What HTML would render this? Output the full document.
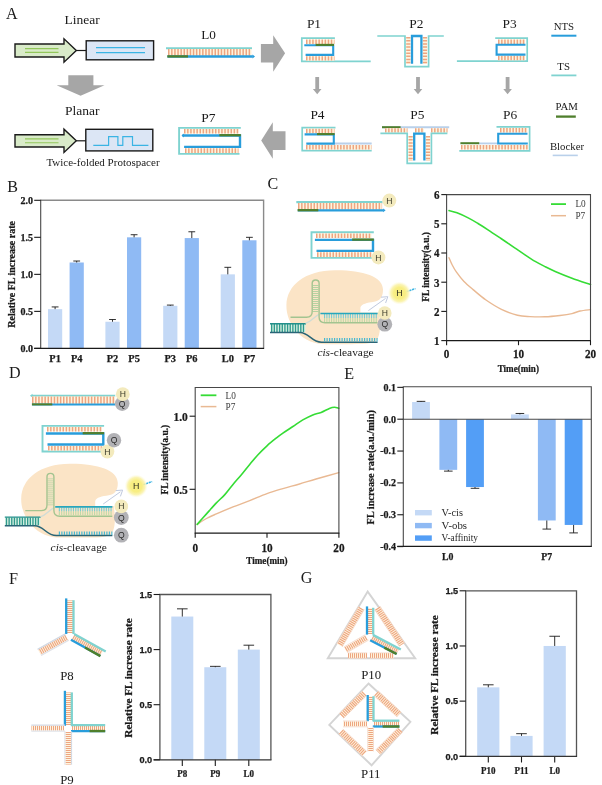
<!DOCTYPE html>
<html lang="en">
<head>
<meta charset="utf-8">
<title>Figure: linear and planar protospacer structures</title>
<style>
html,body{margin:0;padding:0;background:#fff;}
body{width:602px;height:785px;overflow:hidden;}
svg{display:block;}
text{white-space:pre;}
</style>
</head>
<body>
<svg width="602" height="785" viewBox="0 0 602 785">
<defs>
<radialGradient id="glow" cx="50%" cy="50%" r="50%">
<stop offset="0" stop-color="#f8ee7c"/>
<stop offset="0.5" stop-color="#f8ee84"/>
<stop offset="0.75" stop-color="#faf2a6" stop-opacity="0.85"/>
<stop offset="1" stop-color="#fdf9d8" stop-opacity="0"/>
</radialGradient>
</defs>
<rect x="0" y="0" width="602" height="785" fill="#ffffff"/>
<g id="panelA">
<text x="6" y="19" font-family="'Liberation Serif',serif" font-size="16.1" fill="#1a1a1a">A</text>
<text x="64.5" y="24" font-family="'Liberation Serif',serif" font-size="13.5" fill="#1a1a1a">Linear</text>
<text x="65" y="115" font-family="'Liberation Serif',serif" font-size="13.5" fill="#1a1a1a">Planar</text>
<text x="46.4" y="166" font-family="'Liberation Serif',serif" font-size="11" fill="#1a1a1a">Twice-folded Protospacer</text>
<polygon points="15,44 64,44 64,38.8 76.3,50.5 64,62.2 64,57 15,57" fill="#d9ebc9" stroke="#1a1a1a" stroke-width="1.4" stroke-linejoin="miter"/>
<line x1="25" y1="48.6" x2="58.5" y2="48.6" stroke="#93c75b" stroke-width="1.1"/>
<line x1="25" y1="52.4" x2="58.5" y2="52.4" stroke="#93c75b" stroke-width="1.1"/>
<line x1="76.3" y1="50.5" x2="86" y2="50.5" stroke="#1a1a1a" stroke-width="1.2"/>
<polygon points="15,134.8 64,134.8 64,129.2 76.3,140.8 64,152.4 64,147 15,147" fill="#d9ebc9" stroke="#1a1a1a" stroke-width="1.4" stroke-linejoin="miter"/>
<line x1="25" y1="138.9" x2="58.5" y2="138.9" stroke="#93c75b" stroke-width="1.1"/>
<line x1="25" y1="142.7" x2="58.5" y2="142.7" stroke="#93c75b" stroke-width="1.1"/>
<line x1="76.3" y1="140.8" x2="86" y2="140.8" stroke="#1a1a1a" stroke-width="1.2"/>
<rect x="86.2" y="40.8" width="67.4" height="19" fill="#dce6f5" stroke="#1a1a1a" stroke-width="1.4"/>
<line x1="96" y1="47.6" x2="145" y2="47.6" stroke="#3ab4e4" stroke-width="1.2"/>
<line x1="96" y1="52.6" x2="145" y2="52.6" stroke="#3ab4e4" stroke-width="1.2"/>
<rect x="85.8" y="129.3" width="67" height="21.6" fill="#dce6f5" stroke="#1a1a1a" stroke-width="1.4"/>
<polyline points="93.3,145.3 108.6,145.3 108.6,136.7 117.9,136.7 117.9,145.3 122.8,145.3 122.8,136.7 132.5,136.7 132.5,145.3 148.4,145.3" fill="none" stroke="#3ab4e4" stroke-width="1.2"/>
<polygon points="68.3,75.3 93.4,75.3 93.4,85.2 104.5,85.2 80.6,95.8 56.6,85.2 68.3,85.2" fill="#a6a6a6"/>
<polygon points="260.9,43.9 273.2,43.9 273.2,35.3 285.1,53.2 273.2,71.8 273.2,62.5 260.9,62.5" fill="#a6a6a6"/>
<polygon points="285.5,131.3 272.8,131.3 272.8,122.3 261.2,140.6 272.8,158.8 272.8,149.9 285.5,149.9" fill="#a6a6a6"/>
<polygon points="315.3,77 319.1,77 319.1,89 321.5,89 317.2,94.2 312.9,89 315.3,89" fill="#a6a6a6"/>
<polygon points="416.1,77 419.9,77 419.9,89 422.3,89 418,94.2 413.7,89 416.1,89" fill="#a6a6a6"/>
<polygon points="505.7,77 509.5,77 509.5,89 511.9,89 507.6,94.2 503.3,89 505.7,89" fill="#a6a6a6"/>
<text x="201.3" y="39" font-family="'Liberation Serif',serif" font-size="13.2" fill="#1a1a1a">L0</text>
<line x1="166" y1="48.3" x2="252" y2="48.3" stroke="#7fd3d0" stroke-width="2.1"/>
<line x1="168" y1="52.4" x2="251.5" y2="52.4" stroke="#fff4de" stroke-width="6.6"/>
<line x1="168" y1="52.4" x2="251.5" y2="52.4" stroke="#eda581" stroke-width="6.6" stroke-dasharray="1.5 1.6"/>
<line x1="167.5" y1="56.5" x2="252.8" y2="56.5" stroke="#289ddb" stroke-width="2.3"/>
<line x1="167.3" y1="56.4" x2="188" y2="56.4" stroke="#4f7f2c" stroke-width="2.3"/>
<polygon points="252.5,54.6 255,56.5 252.5,58.4" fill="#289ddb"/>
<text x="201.3" y="122" font-family="'Liberation Serif',serif" font-size="13.5" fill="#1a1a1a">P7</text>
<polyline points="240.8,127.9 179.1,127.9 179.1,153.9 239.5,153.9" fill="none" stroke="#7fd3d0" stroke-width="1.9"/>
<line x1="184" y1="131.3" x2="238.5" y2="131.3" stroke="#fff4de" stroke-width="4.6"/>
<line x1="184" y1="131.3" x2="238.5" y2="131.3" stroke="#eda581" stroke-width="4.6" stroke-dasharray="1.5 1.6"/>
<line x1="185" y1="150.6" x2="238.5" y2="150.6" stroke="#fff4de" stroke-width="4.6"/>
<line x1="185" y1="150.6" x2="238.5" y2="150.6" stroke="#eda581" stroke-width="4.6" stroke-dasharray="1.5 1.6"/>
<polyline points="182.5,135.5 240,135.5 240,146.9 184.1,146.9" fill="none" stroke="#289ddb" stroke-width="2.4"/>
<line x1="219.37" y1="135.2" x2="240.8" y2="135.2" stroke="#4f7f2c" stroke-width="2.3"/>
<polygon points="183.8,133.6 181.5,135.5 183.8,137.4" fill="#289ddb"/>
<text x="306.9" y="27.7" font-family="'Liberation Serif',serif" font-size="13.4" fill="#1a1a1a">P1</text>
<polyline points="334.9,38.2 301.8,38.2 301.8,61.4 370.7,61.4" fill="none" stroke="#7fd3d0" stroke-width="1.7"/>
<line x1="306" y1="41.8" x2="334.5" y2="41.8" stroke="#fff4de" stroke-width="4.6"/>
<line x1="306" y1="41.8" x2="334.5" y2="41.8" stroke="#eda581" stroke-width="4.6" stroke-dasharray="1.5 1.6"/>
<line x1="306" y1="58.4" x2="334.5" y2="58.4" stroke="#fff4de" stroke-width="4.4"/>
<line x1="306" y1="58.4" x2="334.5" y2="58.4" stroke="#eda581" stroke-width="4.4" stroke-dasharray="1.5 1.6"/>
<polyline points="304.3,45.2 333.2,45.2 333.2,54.9 305.6,54.9" fill="none" stroke="#289ddb" stroke-width="2.1"/>
<line x1="315.6" y1="44.9" x2="334" y2="44.9" stroke="#4f7f2c" stroke-width="2.1"/>
<text x="409.3" y="27.6" font-family="'Liberation Serif',serif" font-size="13.4" fill="#1a1a1a">P2</text>
<polyline points="377.3,36 405,36 405,66.7 428.6,66.7 428.6,36 443.8,36" fill="none" stroke="#7fd3d0" stroke-width="1.7"/>
<line x1="408.3" y1="37" x2="408.3" y2="64" stroke="#fff4de" stroke-width="4.2"/>
<line x1="408.3" y1="37" x2="408.3" y2="64" stroke="#eda581" stroke-width="4.2" stroke-dasharray="1.5 1.6"/>
<line x1="425" y1="37" x2="425" y2="64" stroke="#fff4de" stroke-width="4.2"/>
<line x1="425" y1="37" x2="425" y2="64" stroke="#eda581" stroke-width="4.2" stroke-dasharray="1.5 1.6"/>
<polyline points="412,63.8 412,36 421.4,36 421.4,63.8" fill="none" stroke="#289ddb" stroke-width="2.3"/>
<text x="502.6" y="27.7" font-family="'Liberation Serif',serif" font-size="13.4" fill="#1a1a1a">P3</text>
<polyline points="495.2,38.2 527.2,38.2 527.2,61.2 456.9,61.2" fill="none" stroke="#7fd3d0" stroke-width="1.7"/>
<line x1="498" y1="41.7" x2="525" y2="41.7" stroke="#fff4de" stroke-width="4.4"/>
<line x1="498" y1="41.7" x2="525" y2="41.7" stroke="#eda581" stroke-width="4.4" stroke-dasharray="1.5 1.6"/>
<line x1="498" y1="58" x2="525" y2="58" stroke="#fff4de" stroke-width="4.4"/>
<line x1="498" y1="58" x2="525" y2="58" stroke="#eda581" stroke-width="4.4" stroke-dasharray="1.5 1.6"/>
<polyline points="525.5,44.8 496.6,44.8 496.6,54.6 525.5,54.6" fill="none" stroke="#289ddb" stroke-width="2.1"/>
<text x="310.4" y="118.9" font-family="'Liberation Serif',serif" font-size="13.4" fill="#1a1a1a">P4</text>
<polyline points="335.5,127.6 302.2,127.6 302.2,150.6 371.7,150.6" fill="none" stroke="#7fd3d0" stroke-width="1.7"/>
<line x1="306" y1="131" x2="334.5" y2="131" stroke="#fff4de" stroke-width="4.6"/>
<line x1="306" y1="131" x2="334.5" y2="131" stroke="#eda581" stroke-width="4.6" stroke-dasharray="1.5 1.6"/>
<line x1="306" y1="147.2" x2="371.5" y2="147.2" stroke="#fff4de" stroke-width="4.6"/>
<line x1="306" y1="147.2" x2="371.5" y2="147.2" stroke="#eda581" stroke-width="4.6" stroke-dasharray="1.5 1.6"/>
<line x1="334" y1="143.5" x2="371.7" y2="143.5" stroke="#b9d0ea" stroke-width="1.8"/>
<polyline points="304.6,134.4 333.8,134.4 333.8,143.6 306.3,143.6" fill="none" stroke="#289ddb" stroke-width="2.1"/>
<line x1="317" y1="134.1" x2="334.6" y2="134.1" stroke="#4f7f2c" stroke-width="2.1"/>
<text x="410.3" y="118.8" font-family="'Liberation Serif',serif" font-size="13.4" fill="#1a1a1a">P5</text>
<line x1="382" y1="127.3" x2="449.2" y2="127.3" stroke="#b9d0ea" stroke-width="1.9"/>
<line x1="382" y1="127.2" x2="400.6" y2="127.2" stroke="#4f7f2c" stroke-width="2"/>
<line x1="385" y1="130.4" x2="407.5" y2="130.4" stroke="#fff4de" stroke-width="4.2"/>
<line x1="385" y1="130.4" x2="407.5" y2="130.4" stroke="#eda581" stroke-width="4.2" stroke-dasharray="1.5 1.6"/>
<line x1="415" y1="130.4" x2="424" y2="130.4" stroke="#fff4de" stroke-width="4.2"/>
<line x1="415" y1="130.4" x2="424" y2="130.4" stroke="#eda581" stroke-width="4.2" stroke-dasharray="1.5 1.6"/>
<line x1="431" y1="130.4" x2="447.5" y2="130.4" stroke="#fff4de" stroke-width="4.2"/>
<line x1="431" y1="130.4" x2="447.5" y2="130.4" stroke="#eda581" stroke-width="4.2" stroke-dasharray="1.5 1.6"/>
<polyline points="380.4,133.3 407.2,133.3 407.2,163.4 431.4,163.4 431.4,133.3 447.4,133.3" fill="none" stroke="#7fd3d0" stroke-width="1.7"/>
<line x1="410.6" y1="136" x2="410.6" y2="161" stroke="#fff4de" stroke-width="4.2"/>
<line x1="410.6" y1="136" x2="410.6" y2="161" stroke="#eda581" stroke-width="4.2" stroke-dasharray="1.5 1.6"/>
<line x1="428" y1="136" x2="428" y2="161" stroke="#fff4de" stroke-width="4.2"/>
<line x1="428" y1="136" x2="428" y2="161" stroke="#eda581" stroke-width="4.2" stroke-dasharray="1.5 1.6"/>
<polyline points="414.2,160.6 414.2,133.6 424.4,133.6 424.4,160.6" fill="none" stroke="#289ddb" stroke-width="2.3"/>
<text x="503" y="118.8" font-family="'Liberation Serif',serif" font-size="13.4" fill="#1a1a1a">P6</text>
<polyline points="496.5,126.9 529.6,126.9 529.6,150.8 459.3,150.8" fill="none" stroke="#7fd3d0" stroke-width="1.7"/>
<line x1="500" y1="130.3" x2="527.5" y2="130.3" stroke="#fff4de" stroke-width="4.4"/>
<line x1="500" y1="130.3" x2="527.5" y2="130.3" stroke="#eda581" stroke-width="4.4" stroke-dasharray="1.5 1.6"/>
<line x1="461" y1="147.3" x2="528" y2="147.3" stroke="#fff4de" stroke-width="4.6"/>
<line x1="461" y1="147.3" x2="528" y2="147.3" stroke="#eda581" stroke-width="4.6" stroke-dasharray="1.5 1.6"/>
<line x1="479" y1="143.4" x2="497.5" y2="143.4" stroke="#b9d0ea" stroke-width="1.8"/>
<line x1="460.4" y1="143.2" x2="479.2" y2="143.2" stroke="#4f7f2c" stroke-width="2"/>
<polyline points="527.5,133.7 498.2,133.7 498.2,143.5 527.8,143.5" fill="none" stroke="#289ddb" stroke-width="2.1"/>
<text x="563.9" y="30.3" font-family="'Liberation Serif',serif" font-size="10.8" text-anchor="middle" fill="#1a1a1a">NTS</text>
<line x1="551.3" y1="35.7" x2="576.4" y2="35.7" stroke="#289ddb" stroke-width="2"/>
<text x="563.6" y="70.1" font-family="'Liberation Serif',serif" font-size="10.8" text-anchor="middle" fill="#1a1a1a">TS</text>
<line x1="551.3" y1="75.4" x2="576.4" y2="75.4" stroke="#7fd3d0" stroke-width="1.8"/>
<text x="566.6" y="110.3" font-family="'Liberation Serif',serif" font-size="10.8" text-anchor="middle" fill="#1a1a1a">PAM</text>
<line x1="556" y1="116.6" x2="575.8" y2="116.6" stroke="#4f7f2c" stroke-width="2.3"/>
<text x="567" y="150.1" font-family="'Liberation Serif',serif" font-size="10.8" text-anchor="middle" fill="#1a1a1a">Blocker</text>
<line x1="552.7" y1="155.4" x2="577.8" y2="155.4" stroke="#b9d0ea" stroke-width="1.6"/>
</g>
<g id="panelB">
<text transform="translate(7.2 192) scale(0.92 1)" font-family="'Liberation Serif',serif" font-size="17.5" fill="#1a1a1a">B</text>
<rect x="48" y="309.15" width="14.2" height="39.25" fill="#c4d9f6"/>
<line x1="55.1" y1="309.15" x2="55.1" y2="306.93" stroke="#1a1a1a" stroke-width="0.9"/>
<line x1="51.7" y1="306.93" x2="58.5" y2="306.93" stroke="#1a1a1a" stroke-width="0.9"/>
<text x="55.1" y="361.6" font-family="'Liberation Serif',serif" font-size="10.4" font-weight="bold" stroke="#1a1a1a" stroke-width="0.25" text-anchor="middle" fill="#1a1a1a">P1</text>
<rect x="69.6" y="262.5" width="14.2" height="85.9" fill="#8fbaf4"/>
<line x1="76.7" y1="262.5" x2="76.7" y2="261.02" stroke="#1a1a1a" stroke-width="0.9"/>
<line x1="73.3" y1="261.02" x2="80.1" y2="261.02" stroke="#1a1a1a" stroke-width="0.9"/>
<text x="76.7" y="361.6" font-family="'Liberation Serif',serif" font-size="10.4" font-weight="bold" stroke="#1a1a1a" stroke-width="0.25" text-anchor="middle" fill="#1a1a1a">P4</text>
<rect x="105.4" y="321.74" width="14.2" height="26.66" fill="#c4d9f6"/>
<line x1="112.5" y1="321.74" x2="112.5" y2="319.52" stroke="#1a1a1a" stroke-width="0.9"/>
<line x1="109.1" y1="319.52" x2="115.9" y2="319.52" stroke="#1a1a1a" stroke-width="0.9"/>
<text x="112.5" y="361.6" font-family="'Liberation Serif',serif" font-size="10.4" font-weight="bold" stroke="#1a1a1a" stroke-width="0.25" text-anchor="middle" fill="#1a1a1a">P2</text>
<rect x="127" y="237.32" width="14.2" height="111.07" fill="#8fbaf4"/>
<line x1="134.1" y1="237.32" x2="134.1" y2="234.73" stroke="#1a1a1a" stroke-width="0.9"/>
<line x1="130.7" y1="234.73" x2="137.5" y2="234.73" stroke="#1a1a1a" stroke-width="0.9"/>
<text x="134.1" y="361.6" font-family="'Liberation Serif',serif" font-size="10.4" font-weight="bold" stroke="#1a1a1a" stroke-width="0.25" text-anchor="middle" fill="#1a1a1a">P5</text>
<rect x="163.2" y="305.82" width="14.2" height="42.58" fill="#c4d9f6"/>
<line x1="170.3" y1="305.82" x2="170.3" y2="305.08" stroke="#1a1a1a" stroke-width="0.9"/>
<line x1="166.9" y1="305.08" x2="173.7" y2="305.08" stroke="#1a1a1a" stroke-width="0.9"/>
<text x="170.3" y="361.6" font-family="'Liberation Serif',serif" font-size="10.4" font-weight="bold" stroke="#1a1a1a" stroke-width="0.25" text-anchor="middle" fill="#1a1a1a">P3</text>
<rect x="184.7" y="238.07" width="14.2" height="110.33" fill="#8fbaf4"/>
<line x1="191.8" y1="238.07" x2="191.8" y2="231.77" stroke="#1a1a1a" stroke-width="0.9"/>
<line x1="188.4" y1="231.77" x2="195.2" y2="231.77" stroke="#1a1a1a" stroke-width="0.9"/>
<text x="191.8" y="361.6" font-family="'Liberation Serif',serif" font-size="10.4" font-weight="bold" stroke="#1a1a1a" stroke-width="0.25" text-anchor="middle" fill="#1a1a1a">P6</text>
<rect x="220.7" y="274.35" width="14.2" height="74.05" fill="#c4d9f6"/>
<line x1="227.8" y1="274.35" x2="227.8" y2="267.32" stroke="#1a1a1a" stroke-width="0.9"/>
<line x1="224.4" y1="267.32" x2="231.2" y2="267.32" stroke="#1a1a1a" stroke-width="0.9"/>
<text x="227.8" y="361.6" font-family="'Liberation Serif',serif" font-size="10.4" font-weight="bold" stroke="#1a1a1a" stroke-width="0.25" text-anchor="middle" fill="#1a1a1a">L0</text>
<rect x="242.3" y="240.29" width="14.2" height="108.11" fill="#8fbaf4"/>
<line x1="249.4" y1="240.29" x2="249.4" y2="237.32" stroke="#1a1a1a" stroke-width="0.9"/>
<line x1="246" y1="237.32" x2="252.8" y2="237.32" stroke="#1a1a1a" stroke-width="0.9"/>
<text x="249.4" y="361.6" font-family="'Liberation Serif',serif" font-size="10.4" font-weight="bold" stroke="#1a1a1a" stroke-width="0.25" text-anchor="middle" fill="#1a1a1a">P7</text>
<polyline points="40.7,200.3 263.6,200.3 263.6,348.4" fill="none" stroke="#8a8a8a" stroke-width="1.4"/>
<line x1="40.7" y1="199.7" x2="40.7" y2="348.4" stroke="#484848" stroke-width="1.1"/>
<line x1="34.2" y1="348.4" x2="264.1" y2="348.4" stroke="#1a1a1a" stroke-width="1.2"/>
<line x1="34.2" y1="348.4" x2="40.7" y2="348.4" stroke="#1a1a1a" stroke-width="1.1"/>
<text x="32.9" y="351.7" font-family="'Liberation Serif',serif" font-size="10" font-weight="bold" stroke="#1a1a1a" stroke-width="0.25" text-anchor="end" fill="#1a1a1a">0.0</text>
<line x1="34.2" y1="311.38" x2="40.7" y2="311.38" stroke="#1a1a1a" stroke-width="1.1"/>
<text x="32.9" y="314.68" font-family="'Liberation Serif',serif" font-size="10" font-weight="bold" stroke="#1a1a1a" stroke-width="0.25" text-anchor="end" fill="#1a1a1a">0.5</text>
<line x1="34.2" y1="274.35" x2="40.7" y2="274.35" stroke="#1a1a1a" stroke-width="1.1"/>
<text x="32.9" y="277.65" font-family="'Liberation Serif',serif" font-size="10" font-weight="bold" stroke="#1a1a1a" stroke-width="0.25" text-anchor="end" fill="#1a1a1a">1.0</text>
<line x1="34.2" y1="237.32" x2="40.7" y2="237.32" stroke="#1a1a1a" stroke-width="1.1"/>
<text x="32.9" y="240.62" font-family="'Liberation Serif',serif" font-size="10" font-weight="bold" stroke="#1a1a1a" stroke-width="0.25" text-anchor="end" fill="#1a1a1a">1.5</text>
<line x1="34.2" y1="200.3" x2="40.7" y2="200.3" stroke="#1a1a1a" stroke-width="1.1"/>
<text x="32.9" y="203.6" font-family="'Liberation Serif',serif" font-size="10" font-weight="bold" stroke="#1a1a1a" stroke-width="0.25" text-anchor="end" fill="#1a1a1a">2.0</text>
<text transform="translate(14.9 274.4) rotate(-90)" font-family="'Liberation Serif',serif" font-size="10" font-weight="bold" stroke="#1a1a1a" stroke-width="0.25" text-anchor="middle" fill="#1a1a1a">Relative FL increase rate</text>
</g>
<g id="diagC">
<text transform="translate(267.5 189) scale(0.92 1)" font-family="'Liberation Serif',serif" font-size="17.5" fill="#1a1a1a">C</text>
<line x1="296.3" y1="202.1" x2="382.6" y2="202.1" stroke="#7fd3d0" stroke-width="2.1"/>
<line x1="298" y1="206.2" x2="382.1" y2="206.2" stroke="#fff4de" stroke-width="6.6"/>
<line x1="298" y1="206.2" x2="382.1" y2="206.2" stroke="#eda581" stroke-width="6.6" stroke-dasharray="1.5 1.6"/>
<line x1="297.8" y1="210.3" x2="383.4" y2="210.3" stroke="#289ddb" stroke-width="2.3"/>
<line x1="297.6" y1="210.2" x2="318.3" y2="210.2" stroke="#4f7f2c" stroke-width="2.3"/>
<polygon points="383.1,208.4 385.6,210.3 383.1,212.2" fill="#289ddb"/>
<circle cx="389.3" cy="200.6" r="7" fill="#f3eabd"/>
<text x="389.3" y="203.7" font-family="'Liberation Sans',sans-serif" font-size="8.6" text-anchor="middle" fill="#3a3a2a">H</text>
<polyline points="373.8,232.3 311.5,232.3 311.5,257.9 372.5,257.9" fill="none" stroke="#7fd3d0" stroke-width="1.9"/>
<line x1="316" y1="235.7" x2="371.5" y2="235.7" stroke="#fff4de" stroke-width="4.6"/>
<line x1="316" y1="235.7" x2="371.5" y2="235.7" stroke="#eda581" stroke-width="4.6" stroke-dasharray="1.5 1.6"/>
<line x1="317" y1="254.6" x2="371.5" y2="254.6" stroke="#fff4de" stroke-width="4.6"/>
<line x1="317" y1="254.6" x2="371.5" y2="254.6" stroke="#eda581" stroke-width="4.6" stroke-dasharray="1.5 1.6"/>
<polyline points="314.9,239.9 373,239.9 373,250.9 316.5,250.9" fill="none" stroke="#289ddb" stroke-width="2.4"/>
<line x1="352.16" y1="239.6" x2="373.8" y2="239.6" stroke="#4f7f2c" stroke-width="2.3"/>
<circle cx="378.4" cy="257.4" r="7" fill="#f3eabd"/>
<text x="378.4" y="260.5" font-family="'Liberation Sans',sans-serif" font-size="8.6" text-anchor="middle" fill="#3a3a2a">H</text>
<g transform="translate(0 0)">
<path d="M335,270.3 C362,270 383,276.5 383,289.5 C383,297 380,300.8 374,301.8 C367,302.8 361.5,304 360.4,307.5 L360.4,312.6 L379,312.6 C380.5,322 381,335 376.5,340.5 C373,344 362,344.2 345,344.2 L326,344.2 C314,344.2 305,340.5 297,332 C290,324 286.2,315 286.4,305 C287,285 305,270.6 335,270.3 Z" fill="#fbe4c6"/>
<rect x="270.5" y="324" width="35" height="8" fill="#d9f1e3"/>
<line x1="271" y1="328" x2="305.4" y2="328" stroke="#2f9a8c" stroke-width="7.8" stroke-dasharray="1.35 1.3"/>
<line x1="270" y1="323.7" x2="306" y2="323.7" stroke="#23908c" stroke-width="1.4"/>
<path d="M270,332.4 L300,332.4 C309,332.4 311.5,342.2 321.5,342.2 L377.6,342.2" fill="none" stroke="#2a6577" stroke-width="1.5"/>
<line x1="324" y1="339.8" x2="377.6" y2="339.8" stroke="#4ab8d0" stroke-width="3.6" stroke-dasharray="1.2 1.3"/>
<path d="M305.5,323.4 C312,321.6 313.5,317 319.5,314.2" fill="none" stroke="#cfdcd6" stroke-width="1.3"/>
<line x1="315.6" y1="285" x2="315.6" y2="312.5" stroke="#b4d3a2" stroke-width="5.4" stroke-dasharray="0.95 1.05"/>
<path d="M290.5,317.2 L306.5,317.2 C310.3,317.2 312.2,315 312.2,311.5 L312.2,283.3 C312.2,278.9 319.1,278.9 319.1,283.3 L319.1,317 C319.1,320.8 321,322.8 325,322.8 L377.5,322.8" fill="none" stroke="#a3c490" stroke-width="1.4"/>
<line x1="324" y1="320" x2="377.4" y2="320" stroke="#bfd9a6" stroke-width="4.2" stroke-dasharray="1.1 1.25"/>
<line x1="324" y1="316" x2="377.4" y2="316" stroke="#79ccd2" stroke-width="3.8" stroke-dasharray="1.1 1.25"/>
<line x1="320.4" y1="313.5" x2="377.6" y2="313.5" stroke="#27a6bd" stroke-width="1.7"/>
<path d="M368.4,310.6 L385.6,298.4 M381,297.2 L387.8,296.7 L385.6,303" fill="none" stroke="#b9c3da" stroke-width="0.9"/>
<line x1="406.5" y1="291.6" x2="415.5" y2="288.6" stroke="#3db4e2" stroke-width="1.5" stroke-dasharray="2.2 0.7"/>
<circle cx="399.5" cy="293.1" r="11.6" fill="url(#glow)"/>
<text x="399.5" y="296.3" font-family="'Liberation Sans',sans-serif" font-size="8.8" text-anchor="middle" fill="#2e2e22">H</text>
<circle cx="384.8" cy="324.2" r="7.4" fill="#b2b2b6"/>
<text x="384.8" y="327.3" font-family="'Liberation Sans',sans-serif" font-size="8.6" text-anchor="middle" fill="#2c2c2c">Q</text>
<circle cx="384.8" cy="313" r="6.8" fill="#f3eabd"/>
<text x="384.8" y="316.1" font-family="'Liberation Sans',sans-serif" font-size="8.6" text-anchor="middle" fill="#3a3a2a">H</text>
</g>
<text x="317.4" y="355.9" font-family="'Liberation Serif',serif" font-size="11.4" fill="#1a1a1a"><tspan font-style="italic">cis</tspan>-cleavage</text>
</g>
<g id="graphC">
<path d="M449,257.7 C449.5,258.83 450.75,262.08 452,264.5 C453.25,266.92 454.5,269.37 456.5,272.2 C458.5,275.03 461.23,278.6 464,281.5 C466.77,284.4 469.43,286.52 473.1,289.6 C476.77,292.68 481.28,296.72 486,300 C490.72,303.28 496.15,306.77 501.4,309.3 C506.65,311.83 512.73,313.98 517.5,315.2 C522.27,316.42 525.42,316.33 530,316.6 C534.58,316.87 540,316.98 545,316.8 C550,316.62 555.5,316.03 560,315.5 C564.5,314.97 568.67,314.35 572,313.6 C575.33,312.85 576.92,311.67 580,311 C583.08,310.33 588.75,309.83 590.5,309.6" fill="none" stroke="#e9b993" stroke-width="1.4" stroke-linecap="round"/>
<path d="M449,210.6 C450.33,210.97 453.8,211.58 457,212.8 C460.2,214.02 464.7,216.12 468.2,217.9 C471.7,219.68 474.7,221.52 478,223.5 C481.3,225.48 484.17,227.3 488,229.8 C491.83,232.3 496.55,235.5 501,238.5 C505.45,241.5 510.7,245.08 514.7,247.8 C518.7,250.52 521.58,252.53 525,254.8 C528.42,257.07 531.87,259.43 535.2,261.4 C538.53,263.37 541.67,264.93 545,266.6 C548.33,268.27 550.7,269.47 555.2,271.4 C559.7,273.33 566.12,276 572,278.2 C577.88,280.4 587.42,283.53 590.5,284.6" fill="none" stroke="#35dc35" stroke-width="1.6" stroke-linecap="round"/>
<polyline points="446.6,340.6 446.6,194.6 590.5,194.6 590.5,340.6" fill="none" stroke="#484848" stroke-width="1.1"/>
<line x1="446.1" y1="340.6" x2="591" y2="340.6" stroke="#1a1a1a" stroke-width="1.2"/>
<line x1="441.3" y1="340.6" x2="446.6" y2="340.6" stroke="#1a1a1a" stroke-width="1.1"/>
<text transform="translate(439.4 344.9) scale(0.9 1)" font-family="'Liberation Serif',serif" font-size="12.2" font-weight="bold" stroke="#1a1a1a" stroke-width="0.25" text-anchor="end" fill="#1a1a1a">1</text>
<line x1="441.3" y1="311.4" x2="446.6" y2="311.4" stroke="#1a1a1a" stroke-width="1.1"/>
<text transform="translate(439.4 315.7) scale(0.9 1)" font-family="'Liberation Serif',serif" font-size="12.2" font-weight="bold" stroke="#1a1a1a" stroke-width="0.25" text-anchor="end" fill="#1a1a1a">2</text>
<line x1="441.3" y1="282.2" x2="446.6" y2="282.2" stroke="#1a1a1a" stroke-width="1.1"/>
<text transform="translate(439.4 286.5) scale(0.9 1)" font-family="'Liberation Serif',serif" font-size="12.2" font-weight="bold" stroke="#1a1a1a" stroke-width="0.25" text-anchor="end" fill="#1a1a1a">3</text>
<line x1="441.3" y1="253" x2="446.6" y2="253" stroke="#1a1a1a" stroke-width="1.1"/>
<text transform="translate(439.4 257.3) scale(0.9 1)" font-family="'Liberation Serif',serif" font-size="12.2" font-weight="bold" stroke="#1a1a1a" stroke-width="0.25" text-anchor="end" fill="#1a1a1a">4</text>
<line x1="441.3" y1="223.8" x2="446.6" y2="223.8" stroke="#1a1a1a" stroke-width="1.1"/>
<text transform="translate(439.4 228.1) scale(0.9 1)" font-family="'Liberation Serif',serif" font-size="12.2" font-weight="bold" stroke="#1a1a1a" stroke-width="0.25" text-anchor="end" fill="#1a1a1a">5</text>
<line x1="441.3" y1="194.6" x2="446.6" y2="194.6" stroke="#1a1a1a" stroke-width="1.1"/>
<text transform="translate(439.4 198.9) scale(0.9 1)" font-family="'Liberation Serif',serif" font-size="12.2" font-weight="bold" stroke="#1a1a1a" stroke-width="0.25" text-anchor="end" fill="#1a1a1a">6</text>
<line x1="446.6" y1="340.6" x2="446.6" y2="345.2" stroke="#1a1a1a" stroke-width="1.1"/>
<text transform="translate(446.6 358.2) scale(0.92 1)" font-family="'Liberation Serif',serif" font-size="12.2" font-weight="bold" stroke="#1a1a1a" stroke-width="0.25" text-anchor="middle" fill="#1a1a1a">0</text>
<line x1="518.5" y1="340.6" x2="518.5" y2="345.2" stroke="#1a1a1a" stroke-width="1.1"/>
<text transform="translate(518.5 358.2) scale(0.92 1)" font-family="'Liberation Serif',serif" font-size="12.2" font-weight="bold" stroke="#1a1a1a" stroke-width="0.25" text-anchor="middle" fill="#1a1a1a">10</text>
<line x1="590.5" y1="340.6" x2="590.5" y2="345.2" stroke="#1a1a1a" stroke-width="1.1"/>
<text transform="translate(590.5 358.2) scale(0.92 1)" font-family="'Liberation Serif',serif" font-size="12.2" font-weight="bold" stroke="#1a1a1a" stroke-width="0.25" text-anchor="middle" fill="#1a1a1a">20</text>
<text transform="translate(518.3 371.6) scale(0.93 1)" font-family="'Liberation Serif',serif" font-size="9.8" font-weight="bold" stroke="#1a1a1a" stroke-width="0.25" text-anchor="middle" fill="#1a1a1a">Time(min)</text>
<text transform="translate(428.6 266.9) rotate(-90)" font-family="'Liberation Serif',serif" font-size="10.2" font-weight="bold" stroke="#1a1a1a" stroke-width="0.25" text-anchor="middle" fill="#1a1a1a" textLength="69.6" lengthAdjust="spacingAndGlyphs">FL intensity(a.u.)</text>
<line x1="551" y1="204.1" x2="566" y2="204.1" stroke="#35dc35" stroke-width="1.8"/>
<line x1="551" y1="215.7" x2="566" y2="215.7" stroke="#e9b993" stroke-width="1.5"/>
<text transform="translate(575.4 207.3) scale(0.95 1)" font-family="'Liberation Serif',serif" font-size="9.8" fill="#3a3a3a">L0</text>
<text transform="translate(575.4 219) scale(0.95 1)" font-family="'Liberation Serif',serif" font-size="9.8" fill="#3a3a3a">P7</text>
</g>
<g id="diagD">
<text transform="translate(8.9 377.8) scale(0.93 1)" font-family="'Liberation Serif',serif" font-size="17.3" fill="#1a1a1a">D</text>
<line x1="32" y1="395.7" x2="115.2" y2="395.7" stroke="#7fd3d0" stroke-width="1.9"/>
<polygon points="32.5,393.8 29.9,395.7 32.5,397.6" fill="#7fd3d0"/>
<line x1="32" y1="400.1" x2="115.2" y2="400.1" stroke="#fff4de" stroke-width="7.2"/>
<line x1="32" y1="400.1" x2="115.2" y2="400.1" stroke="#eda581" stroke-width="7.2" stroke-dasharray="1.5 1.6"/>
<line x1="32.1" y1="404.5" x2="115.2" y2="404.5" stroke="#289ddb" stroke-width="2"/>
<line x1="31.9" y1="404.4" x2="52.3" y2="404.4" stroke="#4f7f2c" stroke-width="2"/>
<circle cx="122.2" cy="403.6" r="7.3" fill="#b2b2b6"/>
<text x="122.2" y="406.7" font-family="'Liberation Sans',sans-serif" font-size="8.6" text-anchor="middle" fill="#2c2c2c">Q</text>
<circle cx="122.8" cy="394.2" r="6.9" fill="#f3eabd"/>
<text x="122.8" y="397.3" font-family="'Liberation Sans',sans-serif" font-size="8.6" text-anchor="middle" fill="#3a3a2a">H</text>
<polyline points="104.1,425.9 42.5,425.9 42.5,451.5 102.8,451.5" fill="none" stroke="#7fd3d0" stroke-width="1.9"/>
<line x1="47" y1="429.3" x2="101.8" y2="429.3" stroke="#fff4de" stroke-width="4.6"/>
<line x1="47" y1="429.3" x2="101.8" y2="429.3" stroke="#eda581" stroke-width="4.6" stroke-dasharray="1.5 1.6"/>
<line x1="48" y1="448.2" x2="101.8" y2="448.2" stroke="#fff4de" stroke-width="4.6"/>
<line x1="48" y1="448.2" x2="101.8" y2="448.2" stroke="#eda581" stroke-width="4.6" stroke-dasharray="1.5 1.6"/>
<polyline points="45.9,433.5 103.3,433.5 103.3,444.5 47.5,444.5" fill="none" stroke="#289ddb" stroke-width="2.4"/>
<line x1="82.7" y1="433.2" x2="104.1" y2="433.2" stroke="#4f7f2c" stroke-width="2.3"/>
<circle cx="107.4" cy="451.5" r="6.9" fill="#f3eabd"/>
<text x="107.4" y="454.6" font-family="'Liberation Sans',sans-serif" font-size="8.6" text-anchor="middle" fill="#3a3a2a">H</text>
<circle cx="114" cy="440.2" r="7.2" fill="#b2b2b6"/>
<text x="114" y="443.3" font-family="'Liberation Sans',sans-serif" font-size="8.6" text-anchor="middle" fill="#2c2c2c">Q</text>
<g transform="translate(-265.2 193.4)">
<path d="M335,270.3 C362,270 383,276.5 383,289.5 C383,297 380,300.8 374,301.8 C367,302.8 361.5,304 360.4,307.5 L360.4,312.6 L379,312.6 C380.5,322 381,335 376.5,340.5 C373,344 362,344.2 345,344.2 L326,344.2 C314,344.2 305,340.5 297,332 C290,324 286.2,315 286.4,305 C287,285 305,270.6 335,270.3 Z" fill="#fbe4c6"/>
<rect x="270.5" y="324" width="35" height="8" fill="#d9f1e3"/>
<line x1="271" y1="328" x2="305.4" y2="328" stroke="#2f9a8c" stroke-width="7.8" stroke-dasharray="1.35 1.3"/>
<line x1="270" y1="323.7" x2="306" y2="323.7" stroke="#23908c" stroke-width="1.4"/>
<path d="M270,332.4 L300,332.4 C309,332.4 311.5,342.2 321.5,342.2 L377.6,342.2" fill="none" stroke="#2a6577" stroke-width="1.5"/>
<line x1="324" y1="339.8" x2="377.6" y2="339.8" stroke="#4ab8d0" stroke-width="3.6" stroke-dasharray="1.2 1.3"/>
<path d="M305.5,323.4 C312,321.6 313.5,317 319.5,314.2" fill="none" stroke="#cfdcd6" stroke-width="1.3"/>
<line x1="315.6" y1="285" x2="315.6" y2="312.5" stroke="#b4d3a2" stroke-width="5.4" stroke-dasharray="0.95 1.05"/>
<path d="M290.5,317.2 L306.5,317.2 C310.3,317.2 312.2,315 312.2,311.5 L312.2,283.3 C312.2,278.9 319.1,278.9 319.1,283.3 L319.1,317 C319.1,320.8 321,322.8 325,322.8 L377.5,322.8" fill="none" stroke="#a3c490" stroke-width="1.4"/>
<line x1="324" y1="320" x2="377.4" y2="320" stroke="#bfd9a6" stroke-width="4.2" stroke-dasharray="1.1 1.25"/>
<line x1="324" y1="316" x2="377.4" y2="316" stroke="#79ccd2" stroke-width="3.8" stroke-dasharray="1.1 1.25"/>
<line x1="320.4" y1="313.5" x2="377.6" y2="313.5" stroke="#27a6bd" stroke-width="1.7"/>
<path d="M368.4,310.6 L385.6,298.4 M381,297.2 L387.8,296.7 L385.6,303" fill="none" stroke="#b9c3da" stroke-width="0.9"/>
<line x1="408.4" y1="291.2" x2="417.4" y2="288.2" stroke="#3db4e2" stroke-width="1.5" stroke-dasharray="2.2 0.7"/>
<circle cx="401.4" cy="292.7" r="11.6" fill="url(#glow)"/>
<text x="401.4" y="295.9" font-family="'Liberation Sans',sans-serif" font-size="8.8" text-anchor="middle" fill="#2e2e22">H</text>
<circle cx="386.5" cy="324.2" r="7.4" fill="#b2b2b6"/>
<text x="386.5" y="327.3" font-family="'Liberation Sans',sans-serif" font-size="8.6" text-anchor="middle" fill="#2c2c2c">Q</text>
<circle cx="386.5" cy="313" r="6.8" fill="#f3eabd"/>
<text x="386.5" y="316.1" font-family="'Liberation Sans',sans-serif" font-size="8.6" text-anchor="middle" fill="#3a3a2a">H</text>
<circle cx="386.5" cy="341.8" r="7.4" fill="#b2b2b6"/>
<text x="386.5" y="344.9" font-family="'Liberation Sans',sans-serif" font-size="8.6" text-anchor="middle" fill="#2c2c2c">Q</text>
</g>
<text x="50.6" y="551.2" font-family="'Liberation Serif',serif" font-size="11.4" fill="#1a1a1a"><tspan font-style="italic">cis</tspan>-cleavage</text>
</g>
<g id="graphD">
<path d="M197.2,524.4 C198.75,523.42 203.3,520.25 206.5,518.5 C209.7,516.75 211.98,515.83 216.4,513.9 C220.82,511.97 227.45,509.12 233,506.9 C238.55,504.68 244.03,502.82 249.7,500.6 C255.37,498.38 261.47,495.6 267,493.6 C272.53,491.6 277.48,490.2 282.9,488.6 C288.32,487 293.97,485.6 299.5,484 C305.03,482.4 309.55,480.9 316.1,479 C322.65,477.1 335.02,473.67 338.8,472.6" fill="none" stroke="#e9b993" stroke-width="1.4" stroke-linecap="round"/>
<path d="M197.2,524.4 C198.75,522.65 203.3,517.48 206.5,513.9 C209.7,510.32 213.35,506.12 216.4,502.9 C219.45,499.68 222.03,497.68 224.8,494.6 C227.57,491.52 230.23,487.72 233,484.4 C235.77,481.08 238.62,478.03 241.4,474.7 C244.18,471.37 246.93,467.73 249.7,464.4 C252.47,461.07 255.12,457.8 258,454.7 C260.88,451.6 263.97,448.57 267,445.8 C270.03,443.03 273.55,440.22 276.2,438.1 C278.85,435.98 280.12,435.03 282.9,433.1 C285.68,431.17 289.58,428.7 292.9,426.5 C296.22,424.3 299.48,421.83 302.8,419.9 C306.12,417.97 309.75,416.15 312.8,414.9 C315.85,413.65 318.33,413.48 321.1,412.4 C323.87,411.32 327.18,409.25 329.4,408.4 C331.62,407.55 332.83,407.33 334.4,407.3 C335.97,407.27 338.07,408.05 338.8,408.2" fill="none" stroke="#35dc35" stroke-width="1.6" stroke-linecap="round"/>
<polyline points="195.2,533.1 195.2,387.5 338.9,387.5 338.9,533.1" fill="none" stroke="#484848" stroke-width="1.1"/>
<line x1="194.7" y1="533.1" x2="339.4" y2="533.1" stroke="#1a1a1a" stroke-width="1.2"/>
<line x1="189.6" y1="416.2" x2="195.2" y2="416.2" stroke="#1a1a1a" stroke-width="1.1"/>
<text transform="translate(187.8 420.5) scale(0.94 1)" font-family="'Liberation Serif',serif" font-size="12.2" font-weight="bold" stroke="#1a1a1a" stroke-width="0.25" text-anchor="end" fill="#1a1a1a">1.0</text>
<line x1="189.6" y1="489.3" x2="195.2" y2="489.3" stroke="#1a1a1a" stroke-width="1.1"/>
<text transform="translate(187.8 493.6) scale(0.94 1)" font-family="'Liberation Serif',serif" font-size="12.2" font-weight="bold" stroke="#1a1a1a" stroke-width="0.25" text-anchor="end" fill="#1a1a1a">0.5</text>
<line x1="195.2" y1="533.1" x2="195.2" y2="537.7" stroke="#1a1a1a" stroke-width="1.1"/>
<text transform="translate(195.2 552) scale(0.92 1)" font-family="'Liberation Serif',serif" font-size="12.2" font-weight="bold" stroke="#1a1a1a" stroke-width="0.25" text-anchor="middle" fill="#1a1a1a">0</text>
<line x1="267" y1="533.1" x2="267" y2="537.7" stroke="#1a1a1a" stroke-width="1.1"/>
<text transform="translate(267 552) scale(0.92 1)" font-family="'Liberation Serif',serif" font-size="12.2" font-weight="bold" stroke="#1a1a1a" stroke-width="0.25" text-anchor="middle" fill="#1a1a1a">10</text>
<line x1="338.9" y1="533.1" x2="338.9" y2="537.7" stroke="#1a1a1a" stroke-width="1.1"/>
<text transform="translate(338.9 552) scale(0.92 1)" font-family="'Liberation Serif',serif" font-size="12.2" font-weight="bold" stroke="#1a1a1a" stroke-width="0.25" text-anchor="middle" fill="#1a1a1a">20</text>
<text transform="translate(267 564.2) scale(0.93 1)" font-family="'Liberation Serif',serif" font-size="9.8" font-weight="bold" stroke="#1a1a1a" stroke-width="0.25" text-anchor="middle" fill="#1a1a1a">Time(min)</text>
<text transform="translate(168.3 459.7) rotate(-90)" font-family="'Liberation Serif',serif" font-size="10.2" font-weight="bold" stroke="#1a1a1a" stroke-width="0.25" text-anchor="middle" fill="#1a1a1a" textLength="69.8" lengthAdjust="spacingAndGlyphs">FL intensity(a.u.)</text>
<line x1="200.7" y1="395.3" x2="216.4" y2="395.3" stroke="#35dc35" stroke-width="1.8"/>
<line x1="200.7" y1="406.6" x2="216.4" y2="406.6" stroke="#e9b993" stroke-width="1.5"/>
<text transform="translate(225.6 398.6) scale(0.95 1)" font-family="'Liberation Serif',serif" font-size="9.8" fill="#3a3a3a">L0</text>
<text transform="translate(225.6 410) scale(0.95 1)" font-family="'Liberation Serif',serif" font-size="9.8" fill="#3a3a3a">P7</text>
</g>
<g id="panelE">
<text transform="translate(344.2 378.5) scale(0.93 1)" font-family="'Liberation Serif',serif" font-size="17.4" fill="#1a1a1a">E</text>
<rect x="412.1" y="402" width="17.8" height="17.2" fill="#c4d9f6"/>
<line x1="421" y1="402" x2="421" y2="401.36" stroke="#1a1a1a" stroke-width="0.9"/>
<line x1="416.7" y1="401.36" x2="425.3" y2="401.36" stroke="#1a1a1a" stroke-width="0.9"/>
<rect x="439.4" y="419.2" width="17.8" height="50.64" fill="#8fbaf4"/>
<line x1="448.3" y1="469.84" x2="448.3" y2="471.12" stroke="#1a1a1a" stroke-width="0.9"/>
<line x1="444" y1="471.12" x2="452.6" y2="471.12" stroke="#1a1a1a" stroke-width="0.9"/>
<rect x="466.1" y="419.2" width="17.8" height="67.84" fill="#539ef6"/>
<line x1="475" y1="487.04" x2="475" y2="488.31" stroke="#1a1a1a" stroke-width="0.9"/>
<line x1="470.7" y1="488.31" x2="479.3" y2="488.31" stroke="#1a1a1a" stroke-width="0.9"/>
<rect x="511" y="414.42" width="17.8" height="4.78" fill="#c4d9f6"/>
<line x1="519.9" y1="414.42" x2="519.9" y2="413.47" stroke="#1a1a1a" stroke-width="0.9"/>
<line x1="515.6" y1="413.47" x2="524.2" y2="413.47" stroke="#1a1a1a" stroke-width="0.9"/>
<rect x="537.9" y="419.2" width="17.8" height="101.28" fill="#8fbaf4"/>
<line x1="546.8" y1="520.48" x2="546.8" y2="529.08" stroke="#1a1a1a" stroke-width="0.9"/>
<line x1="542.5" y1="529.08" x2="551.1" y2="529.08" stroke="#1a1a1a" stroke-width="0.9"/>
<rect x="564.7" y="419.2" width="17.8" height="105.74" fill="#539ef6"/>
<line x1="573.6" y1="524.94" x2="573.6" y2="532.9" stroke="#1a1a1a" stroke-width="0.9"/>
<line x1="569.3" y1="532.9" x2="577.9" y2="532.9" stroke="#1a1a1a" stroke-width="0.9"/>
<line x1="403.3" y1="419.2" x2="591.3" y2="419.2" stroke="#484848" stroke-width="1.1"/>
<polyline points="403.3,546.4 403.3,386.8 591.3,386.8 591.3,546.4" fill="none" stroke="#484848" stroke-width="1.1"/>
<line x1="397.3" y1="546.4" x2="591.8" y2="546.4" stroke="#1a1a1a" stroke-width="1.2"/>
<line x1="397.3" y1="387.35" x2="403.3" y2="387.35" stroke="#1a1a1a" stroke-width="1.1"/>
<text x="396" y="390.65" font-family="'Liberation Serif',serif" font-size="10" font-weight="bold" stroke="#1a1a1a" stroke-width="0.25" text-anchor="end" fill="#1a1a1a">0.1</text>
<line x1="397.3" y1="419.2" x2="403.3" y2="419.2" stroke="#1a1a1a" stroke-width="1.1"/>
<text x="396" y="422.5" font-family="'Liberation Serif',serif" font-size="10" font-weight="bold" stroke="#1a1a1a" stroke-width="0.25" text-anchor="end" fill="#1a1a1a">0.0</text>
<line x1="397.3" y1="451.05" x2="403.3" y2="451.05" stroke="#1a1a1a" stroke-width="1.1"/>
<text x="396" y="454.35" font-family="'Liberation Serif',serif" font-size="10" font-weight="bold" stroke="#1a1a1a" stroke-width="0.25" text-anchor="end" fill="#1a1a1a">-0.1</text>
<line x1="397.3" y1="482.9" x2="403.3" y2="482.9" stroke="#1a1a1a" stroke-width="1.1"/>
<text x="396" y="486.2" font-family="'Liberation Serif',serif" font-size="10" font-weight="bold" stroke="#1a1a1a" stroke-width="0.25" text-anchor="end" fill="#1a1a1a">-0.2</text>
<line x1="397.3" y1="514.75" x2="403.3" y2="514.75" stroke="#1a1a1a" stroke-width="1.1"/>
<text x="396" y="518.05" font-family="'Liberation Serif',serif" font-size="10" font-weight="bold" stroke="#1a1a1a" stroke-width="0.25" text-anchor="end" fill="#1a1a1a">-0.3</text>
<line x1="397.3" y1="546.6" x2="403.3" y2="546.6" stroke="#1a1a1a" stroke-width="1.1"/>
<text x="396" y="549.9" font-family="'Liberation Serif',serif" font-size="10" font-weight="bold" stroke="#1a1a1a" stroke-width="0.25" text-anchor="end" fill="#1a1a1a">-0.4</text>
<text x="447.8" y="559.5" font-family="'Liberation Serif',serif" font-size="9.8" font-weight="bold" stroke="#1a1a1a" stroke-width="0.25" text-anchor="middle" fill="#1a1a1a">L0</text>
<text x="546.8" y="559.5" font-family="'Liberation Serif',serif" font-size="9.8" font-weight="bold" stroke="#1a1a1a" stroke-width="0.25" text-anchor="middle" fill="#1a1a1a">P7</text>
<text transform="translate(374 467.3) rotate(-90)" font-family="'Liberation Serif',serif" font-size="10.3" font-weight="bold" stroke="#1a1a1a" stroke-width="0.25" text-anchor="middle" fill="#1a1a1a">FL increase rate(a.u./min)</text>
<rect x="415" y="510" width="16.8" height="5.4" fill="#c4d9f6"/>
<text x="441.6" y="515.9" font-family="'Liberation Serif',serif" font-size="10.7" fill="#262626" textLength="21.4" lengthAdjust="spacingAndGlyphs">V-cis</text>
<rect x="415" y="522.9" width="16.8" height="5.4" fill="#8fbaf4"/>
<text x="441.6" y="528.8" font-family="'Liberation Serif',serif" font-size="10.7" fill="#262626" textLength="25.4" lengthAdjust="spacingAndGlyphs">V-obs</text>
<rect x="415" y="535.4" width="16.8" height="5.4" fill="#539ef6"/>
<text x="441.6" y="541.3" font-family="'Liberation Serif',serif" font-size="10.7" fill="#262626" textLength="36.4" lengthAdjust="spacingAndGlyphs">V-affinity</text>
</g>
<line x1="69.85" y1="633" x2="69.85" y2="600.4" stroke="#fff4de" stroke-width="6.1"/>
<line x1="69.85" y1="633" x2="69.85" y2="600.4" stroke="#eda581" stroke-width="6.1" stroke-dasharray="1 1"/>
<line x1="66.2" y1="634" x2="66.2" y2="598.4" stroke="#289ddb" stroke-width="2.3"/>
<line x1="73.5" y1="634" x2="73.5" y2="600.2" stroke="#7fd3d0" stroke-width="2.3"/>
<line x1="73.16" y1="637.15" x2="101.83" y2="653.1" stroke="#fff4de" stroke-width="5.4"/>
<line x1="73.16" y1="637.15" x2="101.83" y2="653.1" stroke="#eda581" stroke-width="5.4" stroke-dasharray="1.12 0.93"/>
<line x1="74.16" y1="633.92" x2="105.7" y2="651.48" stroke="#7fd3d0" stroke-width="2.3"/>
<line x1="70.95" y1="639.69" x2="100.39" y2="656.08" stroke="#289ddb" stroke-width="2.3"/>
<line x1="84.97" y1="647.5" x2="100.39" y2="656.08" stroke="#4f7f2c" stroke-width="2.4"/>
<line x1="66.44" y1="637.35" x2="39.47" y2="652.3" stroke="#fff4de" stroke-width="5.8"/>
<line x1="66.44" y1="637.35" x2="39.47" y2="652.3" stroke="#eda581" stroke-width="5.8" stroke-dasharray="1.12 0.93"/>
<line x1="68.75" y1="640.07" x2="41" y2="655.46" stroke="#e1e3e8" stroke-width="1.5"/>
<line x1="65.35" y1="633.95" x2="37.6" y2="649.34" stroke="#d3d9e3" stroke-width="1.5"/>
<text x="67" y="680" font-family="'Liberation Serif',serif" font-size="12.8" text-anchor="middle" fill="#1a1a1a">P8</text>
<line x1="68.35" y1="725" x2="68.35" y2="692.6" stroke="#fff4de" stroke-width="5.7"/>
<line x1="68.35" y1="725" x2="68.35" y2="692.6" stroke="#eda581" stroke-width="5.7" stroke-dasharray="1 1"/>
<line x1="64.9" y1="725.8" x2="64.9" y2="690.8" stroke="#289ddb" stroke-width="2.3"/>
<line x1="71.8" y1="725.8" x2="71.8" y2="692.4" stroke="#7fd3d0" stroke-width="2.3"/>
<line x1="72" y1="728.1" x2="105" y2="728.1" stroke="#fff4de" stroke-width="4.7"/>
<line x1="72" y1="728.1" x2="105" y2="728.1" stroke="#eda581" stroke-width="4.7" stroke-dasharray="1 1"/>
<line x1="71" y1="725.15" x2="105.2" y2="725.15" stroke="#7fd3d0" stroke-width="2.3"/>
<line x1="71" y1="731.05" x2="105.2" y2="731.05" stroke="#289ddb" stroke-width="2.3"/>
<line x1="89.65" y1="731.05" x2="105.2" y2="731.05" stroke="#4f7f2c" stroke-width="2.4"/>
<line x1="64" y1="728.2" x2="31.5" y2="728.2" stroke="#fff4de" stroke-width="4.8"/>
<line x1="64" y1="728.2" x2="31.5" y2="728.2" stroke="#eda581" stroke-width="4.8" stroke-dasharray="1 1"/>
<line x1="65" y1="731.2" x2="31.3" y2="731.2" stroke="#e1e3e8" stroke-width="1.2"/>
<line x1="65" y1="725.2" x2="31.3" y2="725.2" stroke="#d3d9e3" stroke-width="1.2"/>
<line x1="68.2" y1="732" x2="68.2" y2="764.5" stroke="#fff4de" stroke-width="5.4"/>
<line x1="68.2" y1="732" x2="68.2" y2="764.5" stroke="#eda581" stroke-width="5.4" stroke-dasharray="1 1"/>
<line x1="71.5" y1="731.3" x2="71.5" y2="764.7" stroke="#d3d9e3" stroke-width="1.2"/>
<line x1="64.9" y1="731.3" x2="64.9" y2="764.7" stroke="#e1e3e8" stroke-width="1.2"/>
<text x="66.9" y="783.5" font-family="'Liberation Serif',serif" font-size="12.8" text-anchor="middle" fill="#1a1a1a">P9</text>
<g id="panelF">
<text transform="translate(8.9 583.7) scale(0.93 1)" font-family="'Liberation Serif',serif" font-size="17.4" fill="#1a1a1a">F</text>
<rect x="171.3" y="616.54" width="22" height="143.26" fill="#c4d9f6"/>
<line x1="182.3" y1="616.54" x2="182.3" y2="608.83" stroke="#1a1a1a" stroke-width="0.9"/>
<line x1="177" y1="608.83" x2="187.6" y2="608.83" stroke="#1a1a1a" stroke-width="0.9"/>
<line x1="182.3" y1="759.8" x2="182.3" y2="766" stroke="#1a1a1a" stroke-width="1.1"/>
<text transform="translate(182.3 777) scale(0.91 1)" font-family="'Liberation Serif',serif" font-size="9.9" font-weight="bold" stroke="#1a1a1a" stroke-width="0.25" text-anchor="middle" fill="#1a1a1a">P8</text>
<rect x="204.3" y="667.23" width="22" height="92.57" fill="#c4d9f6"/>
<line x1="215.3" y1="667.23" x2="215.3" y2="666.35" stroke="#1a1a1a" stroke-width="0.9"/>
<line x1="210" y1="666.35" x2="220.6" y2="666.35" stroke="#1a1a1a" stroke-width="0.9"/>
<line x1="215.3" y1="759.8" x2="215.3" y2="766" stroke="#1a1a1a" stroke-width="1.1"/>
<text transform="translate(215.3 777) scale(0.91 1)" font-family="'Liberation Serif',serif" font-size="9.9" font-weight="bold" stroke="#1a1a1a" stroke-width="0.25" text-anchor="middle" fill="#1a1a1a">P9</text>
<rect x="237.8" y="649.6" width="22" height="110.2" fill="#c4d9f6"/>
<line x1="248.8" y1="649.6" x2="248.8" y2="645.19" stroke="#1a1a1a" stroke-width="0.9"/>
<line x1="243.5" y1="645.19" x2="254.1" y2="645.19" stroke="#1a1a1a" stroke-width="0.9"/>
<line x1="248.8" y1="759.8" x2="248.8" y2="766" stroke="#1a1a1a" stroke-width="1.1"/>
<text transform="translate(248.8 777) scale(0.91 1)" font-family="'Liberation Serif',serif" font-size="9.9" font-weight="bold" stroke="#1a1a1a" stroke-width="0.25" text-anchor="middle" fill="#1a1a1a">L0</text>
<polyline points="159.9,759.8 159.9,594.5 270.9,594.5 270.9,759.8" fill="none" stroke="#555" stroke-width="1.3"/>
<line x1="153.6" y1="759.8" x2="271.5" y2="759.8" stroke="#333" stroke-width="1.3"/>
<line x1="153.6" y1="759.8" x2="159.9" y2="759.8" stroke="#1a1a1a" stroke-width="1.1"/>
<text x="152.2" y="763.1" font-family="'Liberation Sans',sans-serif" font-size="9.2" font-weight="bold" stroke="#1a1a1a" stroke-width="0.25" text-anchor="end" fill="#1a1a1a">0.0</text>
<line x1="153.6" y1="704.7" x2="159.9" y2="704.7" stroke="#1a1a1a" stroke-width="1.1"/>
<text x="152.2" y="708" font-family="'Liberation Sans',sans-serif" font-size="9.2" font-weight="bold" stroke="#1a1a1a" stroke-width="0.25" text-anchor="end" fill="#1a1a1a">0.5</text>
<line x1="153.6" y1="649.6" x2="159.9" y2="649.6" stroke="#1a1a1a" stroke-width="1.1"/>
<text x="152.2" y="652.9" font-family="'Liberation Sans',sans-serif" font-size="9.2" font-weight="bold" stroke="#1a1a1a" stroke-width="0.25" text-anchor="end" fill="#1a1a1a">1.0</text>
<line x1="153.6" y1="594.5" x2="159.9" y2="594.5" stroke="#1a1a1a" stroke-width="1.1"/>
<text x="152.2" y="597.8" font-family="'Liberation Sans',sans-serif" font-size="9.2" font-weight="bold" stroke="#1a1a1a" stroke-width="0.25" text-anchor="end" fill="#1a1a1a">1.5</text>
<text transform="translate(132 678) rotate(-90)" font-family="'Liberation Serif',serif" font-size="11.2" font-weight="bold" stroke="#1a1a1a" stroke-width="0.25" text-anchor="middle" fill="#1a1a1a">Relative FL increase rate</text>
</g>
<polygon points="367.7,591.6 415.2,658.2 327.8,658.2" fill="none" stroke="#d4d4d4" stroke-width="1.9" stroke-linejoin="miter"/>
<line x1="361.3" y1="608.2" x2="339.5" y2="645.23" stroke="#fff4de" stroke-width="6"/>
<line x1="361.3" y1="608.2" x2="339.5" y2="645.23" stroke="#eda581" stroke-width="6" stroke-dasharray="1.12 0.93"/>
<line x1="364.26" y1="609.48" x2="342.16" y2="647.02" stroke="#f3d6c4" stroke-width="0.8"/>
<line x1="358.75" y1="606.23" x2="336.64" y2="643.78" stroke="#f3d6c4" stroke-width="0.8"/>
<line x1="377.5" y1="608.2" x2="401.89" y2="644.63" stroke="#fff4de" stroke-width="6"/>
<line x1="377.5" y1="608.2" x2="401.89" y2="644.63" stroke="#eda581" stroke-width="6" stroke-dasharray="1.12 0.93"/>
<line x1="379.94" y1="606.09" x2="404.66" y2="643.02" stroke="#f3d6c4" stroke-width="0.8"/>
<line x1="374.62" y1="609.65" x2="399.34" y2="646.58" stroke="#f3d6c4" stroke-width="0.8"/>
<line x1="348" y1="655.6" x2="367" y2="655.6" stroke="#fff4de" stroke-width="5"/>
<line x1="348" y1="655.6" x2="367" y2="655.6" stroke="#eda581" stroke-width="5" stroke-dasharray="1 1"/>
<line x1="347.8" y1="652.9" x2="367.2" y2="652.9" stroke="#f3d6c4" stroke-width="0.8"/>
<line x1="347.8" y1="658.3" x2="367.2" y2="658.3" stroke="#f3d6c4" stroke-width="0.8"/>
<line x1="370" y1="655.6" x2="393.8" y2="655.6" stroke="#fff4de" stroke-width="5"/>
<line x1="370" y1="655.6" x2="393.8" y2="655.6" stroke="#eda581" stroke-width="5" stroke-dasharray="1 1"/>
<line x1="369.8" y1="652.9" x2="394" y2="652.9" stroke="#f3d6c4" stroke-width="0.8"/>
<line x1="369.8" y1="658.3" x2="394" y2="658.3" stroke="#f3d6c4" stroke-width="0.8"/>
<line x1="370.1" y1="634" x2="370.1" y2="608" stroke="#fff4de" stroke-width="5"/>
<line x1="370.1" y1="634" x2="370.1" y2="608" stroke="#eda581" stroke-width="5" stroke-dasharray="1 1"/>
<line x1="367" y1="634.6" x2="367" y2="606.4" stroke="#289ddb" stroke-width="2.3"/>
<line x1="373.2" y1="634.6" x2="373.2" y2="607.8" stroke="#7fd3d0" stroke-width="2.3"/>
<line x1="372.17" y1="637.84" x2="397.82" y2="651.31" stroke="#fff4de" stroke-width="4.8"/>
<line x1="372.17" y1="637.84" x2="397.82" y2="651.31" stroke="#eda581" stroke-width="4.8" stroke-dasharray="1.12 0.93"/>
<line x1="372.94" y1="634.86" x2="400.81" y2="649.49" stroke="#7fd3d0" stroke-width="2.3"/>
<line x1="370.15" y1="640.17" x2="396.61" y2="654.06" stroke="#289ddb" stroke-width="2.3"/>
<line x1="384.34" y1="647.62" x2="396.61" y2="654.06" stroke="#4f7f2c" stroke-width="2.4"/>
<line x1="366.34" y1="637.75" x2="345.57" y2="649.7" stroke="#fff4de" stroke-width="5.2"/>
<line x1="366.34" y1="637.75" x2="345.57" y2="649.7" stroke="#eda581" stroke-width="5.2" stroke-dasharray="1.12 0.93"/>
<line x1="368.54" y1="640.17" x2="347" y2="652.57" stroke="#f3d6c4" stroke-width="0.8"/>
<line x1="365.35" y1="634.63" x2="343.8" y2="647.03" stroke="#f3d6c4" stroke-width="0.8"/>
<text x="371.2" y="678.5" font-family="'Liberation Serif',serif" font-size="12.8" text-anchor="middle" fill="#1a1a1a">P10</text>
<polygon points="368.5,683.5 410.4,721.8 371.6,765.3 329.3,724.9" fill="none" stroke="#d4d4d4" stroke-width="1.9" stroke-linejoin="miter"/>
<line x1="364.3" y1="693.4" x2="341.54" y2="715.86" stroke="#fff4de" stroke-width="6"/>
<line x1="364.3" y1="693.4" x2="341.54" y2="715.86" stroke="#eda581" stroke-width="6" stroke-dasharray="1.12 0.93"/>
<line x1="366.83" y1="695.4" x2="343.65" y2="718.28" stroke="#f3d6c4" stroke-width="0.8"/>
<line x1="362.34" y1="690.84" x2="339.15" y2="713.72" stroke="#f3d6c4" stroke-width="0.8"/>
<line x1="376.2" y1="693.4" x2="399.05" y2="714.46" stroke="#fff4de" stroke-width="6"/>
<line x1="376.2" y1="693.4" x2="399.05" y2="714.46" stroke="#eda581" stroke-width="6" stroke-dasharray="1.12 0.93"/>
<line x1="378.07" y1="690.78" x2="401.37" y2="712.25" stroke="#f3d6c4" stroke-width="0.8"/>
<line x1="373.74" y1="695.48" x2="397.03" y2="716.95" stroke="#f3d6c4" stroke-width="0.8"/>
<line x1="341" y1="731.6" x2="364.45" y2="753.66" stroke="#fff4de" stroke-width="6"/>
<line x1="341" y1="731.6" x2="364.45" y2="753.66" stroke="#eda581" stroke-width="6" stroke-dasharray="1.12 0.93"/>
<line x1="342.9" y1="729" x2="366.79" y2="751.47" stroke="#f3d6c4" stroke-width="0.8"/>
<line x1="338.52" y1="733.66" x2="362.41" y2="756.13" stroke="#f3d6c4" stroke-width="0.8"/>
<line x1="400.2" y1="730" x2="378.14" y2="752.06" stroke="#fff4de" stroke-width="6"/>
<line x1="400.2" y1="730" x2="378.14" y2="752.06" stroke="#eda581" stroke-width="6" stroke-dasharray="1.12 0.93"/>
<line x1="402.75" y1="731.98" x2="380.26" y2="754.46" stroke="#f3d6c4" stroke-width="0.8"/>
<line x1="398.22" y1="727.45" x2="375.74" y2="749.94" stroke="#f3d6c4" stroke-width="0.8"/>
<line x1="370.6" y1="720" x2="370.6" y2="696.4" stroke="#fff4de" stroke-width="4.6"/>
<line x1="370.6" y1="720" x2="370.6" y2="696.4" stroke="#eda581" stroke-width="4.6" stroke-dasharray="1 1"/>
<line x1="367.7" y1="721.2" x2="367.7" y2="695" stroke="#289ddb" stroke-width="2.3"/>
<line x1="373.5" y1="721.2" x2="373.5" y2="696.2" stroke="#7fd3d0" stroke-width="2.3"/>
<line x1="374" y1="723.6" x2="399.2" y2="723.6" stroke="#fff4de" stroke-width="4.6"/>
<line x1="374" y1="723.6" x2="399.2" y2="723.6" stroke="#eda581" stroke-width="4.6" stroke-dasharray="1 1"/>
<line x1="372.8" y1="720.7" x2="399.4" y2="720.7" stroke="#7fd3d0" stroke-width="2.3"/>
<line x1="372.8" y1="726.5" x2="399.4" y2="726.5" stroke="#289ddb" stroke-width="2.3"/>
<line x1="382.63" y1="726.5" x2="399.4" y2="726.5" stroke="#4f7f2c" stroke-width="2.4"/>
<line x1="367" y1="723.9" x2="343.2" y2="723.9" stroke="#fff4de" stroke-width="4.6"/>
<line x1="367" y1="723.9" x2="343.2" y2="723.9" stroke="#eda581" stroke-width="4.6" stroke-dasharray="1 1"/>
<line x1="367.6" y1="726.8" x2="343" y2="726.8" stroke="#f3d6c4" stroke-width="0.8"/>
<line x1="367.6" y1="721" x2="343" y2="721" stroke="#f3d6c4" stroke-width="0.8"/>
<line x1="370.6" y1="728" x2="370.6" y2="751.2" stroke="#fff4de" stroke-width="4.6"/>
<line x1="370.6" y1="728" x2="370.6" y2="751.2" stroke="#eda581" stroke-width="4.6" stroke-dasharray="1 1"/>
<line x1="373.5" y1="726.8" x2="373.5" y2="751.4" stroke="#f3d6c4" stroke-width="0.8"/>
<line x1="367.7" y1="726.8" x2="367.7" y2="751.4" stroke="#f3d6c4" stroke-width="0.8"/>
<text x="370.8" y="777.6" font-family="'Liberation Serif',serif" font-size="12.8" text-anchor="middle" fill="#1a1a1a">P11</text>
<g id="panelG">
<text transform="translate(300.7 583.3) scale(0.93 1)" font-family="'Liberation Serif',serif" font-size="17.4" fill="#1a1a1a">G</text>
<rect x="477.2" y="687.34" width="22.2" height="68.96" fill="#c4d9f6"/>
<line x1="488.3" y1="687.34" x2="488.3" y2="684.8" stroke="#1a1a1a" stroke-width="0.9"/>
<line x1="483" y1="684.8" x2="493.6" y2="684.8" stroke="#1a1a1a" stroke-width="0.9"/>
<line x1="488.3" y1="756.3" x2="488.3" y2="762.5" stroke="#1a1a1a" stroke-width="1.1"/>
<text transform="translate(488.3 773.5) scale(0.91 1)" font-family="'Liberation Serif',serif" font-size="9.9" font-weight="bold" stroke="#1a1a1a" stroke-width="0.25" text-anchor="middle" fill="#1a1a1a">P10</text>
<rect x="510.4" y="735.89" width="22.2" height="20.41" fill="#c4d9f6"/>
<line x1="521.5" y1="735.89" x2="521.5" y2="733.68" stroke="#1a1a1a" stroke-width="0.9"/>
<line x1="516.2" y1="733.68" x2="526.8" y2="733.68" stroke="#1a1a1a" stroke-width="0.9"/>
<line x1="521.5" y1="756.3" x2="521.5" y2="762.5" stroke="#1a1a1a" stroke-width="1.1"/>
<text transform="translate(521.5 773.5) scale(0.91 1)" font-family="'Liberation Serif',serif" font-size="9.9" font-weight="bold" stroke="#1a1a1a" stroke-width="0.25" text-anchor="middle" fill="#1a1a1a">P11</text>
<rect x="543.6" y="645.97" width="22.2" height="110.33" fill="#c4d9f6"/>
<line x1="554.7" y1="645.97" x2="554.7" y2="636.26" stroke="#1a1a1a" stroke-width="0.9"/>
<line x1="549.4" y1="636.26" x2="560" y2="636.26" stroke="#1a1a1a" stroke-width="0.9"/>
<line x1="554.7" y1="756.3" x2="554.7" y2="762.5" stroke="#1a1a1a" stroke-width="1.1"/>
<text transform="translate(554.7 773.5) scale(0.91 1)" font-family="'Liberation Serif',serif" font-size="9.9" font-weight="bold" stroke="#1a1a1a" stroke-width="0.25" text-anchor="middle" fill="#1a1a1a">L0</text>
<polyline points="465.7,756.3 465.7,590.8 576.5,590.8 576.5,756.3" fill="none" stroke="#555" stroke-width="1.3"/>
<line x1="459.6" y1="756.3" x2="577.1" y2="756.3" stroke="#333" stroke-width="1.3"/>
<line x1="459.6" y1="756.3" x2="465.7" y2="756.3" stroke="#1a1a1a" stroke-width="1.1"/>
<text x="458.2" y="759.6" font-family="'Liberation Sans',sans-serif" font-size="9.2" font-weight="bold" stroke="#1a1a1a" stroke-width="0.25" text-anchor="end" fill="#1a1a1a">0.0</text>
<line x1="459.6" y1="701.13" x2="465.7" y2="701.13" stroke="#1a1a1a" stroke-width="1.1"/>
<text x="458.2" y="704.43" font-family="'Liberation Sans',sans-serif" font-size="9.2" font-weight="bold" stroke="#1a1a1a" stroke-width="0.25" text-anchor="end" fill="#1a1a1a">0.5</text>
<line x1="459.6" y1="645.97" x2="465.7" y2="645.97" stroke="#1a1a1a" stroke-width="1.1"/>
<text x="458.2" y="649.27" font-family="'Liberation Sans',sans-serif" font-size="9.2" font-weight="bold" stroke="#1a1a1a" stroke-width="0.25" text-anchor="end" fill="#1a1a1a">1.0</text>
<line x1="459.6" y1="590.8" x2="465.7" y2="590.8" stroke="#1a1a1a" stroke-width="1.1"/>
<text x="458.2" y="594.1" font-family="'Liberation Sans',sans-serif" font-size="9.2" font-weight="bold" stroke="#1a1a1a" stroke-width="0.25" text-anchor="end" fill="#1a1a1a">1.5</text>
<text transform="translate(438.2 675) rotate(-90)" font-family="'Liberation Serif',serif" font-size="11.2" font-weight="bold" stroke="#1a1a1a" stroke-width="0.25" text-anchor="middle" fill="#1a1a1a">Relative FL increase rate</text>
</g>
</svg>
</body>
</html>
